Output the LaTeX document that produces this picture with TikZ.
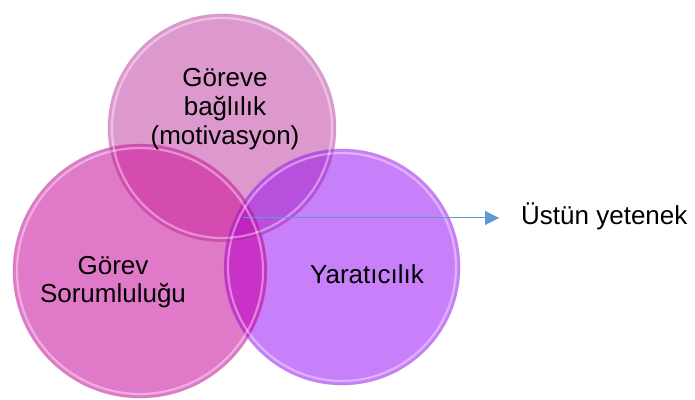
\documentclass[tikz,border=0pt]{standalone}
\usepackage{fontspec}
\setmainfont{Liberation Sans}
\usetikzlibrary{arrows.meta}
\definecolor{cTop}{RGB}{221,153,206}
\definecolor{cLeft}{RGB}{224,122,200}
\definecolor{cRight}{RGB}{200,128,250}
\definecolor{cTL}{RGB}{212,76,176}
\definecolor{cTR}{RGB}{184,80,222}
\definecolor{cLR}{RGB}{200,50,198}
\definecolor{cAll}{RGB}{192,38,190}
\definecolor{arrowblue}{RGB}{91,155,213}
\tikzset{
  lbl/.style={font=\fontsize{26}{28}\selectfont, align=center, text=black, inner sep=0pt},
  rimout/.style={line width=0.8pt, draw opacity=0.35},
  riminner/.style={draw=white, line width=2.2pt, draw opacity=0.4},
}
\begin{document}
\begin{tikzpicture}[x=1pt,y=1pt]
  \fill[white] (0,0) rectangle (695,399);
  \useasboundingbox (0,0) rectangle (695,399);
  % circle centres and radii
  \def\topc{(222,271)}\def\topr{114}
  \def\leftc{(140,128)}\def\leftr{127}
  \def\rightc{(342,132)}\def\rightr{118}
  % plain fills
  \fill[cTop] \topc circle (\topr);
  \fill[cLeft] \leftc circle (\leftr);
  \fill[cRight] \rightc circle (\rightr);
  % overlaps
  \begin{scope}
    \clip \topc circle (\topr);
    \fill[cTL] \leftc circle (\leftr);
    \fill[cTR] \rightc circle (\rightr);
  \end{scope}
  \begin{scope}
    \clip \leftc circle (\leftr);
    \fill[cLR] \rightc circle (\rightr);
  \end{scope}
  \begin{scope}
    \clip \topc circle (\topr);
    \clip \leftc circle (\leftr);
    \fill[cAll] \rightc circle (\rightr);
  \end{scope}
  % glossy rims
  \draw[riminner] \topc circle (\topr-4);
  \draw[riminner] \leftc circle (\leftr-4);
  \draw[riminner] \rightc circle (\rightr-4);
  \draw[rimout, draw=cTop!80!black] \topc circle (\topr);
  \draw[rimout, draw=cLeft!80!black] \leftc circle (\leftr);
  \draw[rimout, draw=cRight!80!black] \rightc circle (\rightr);
  % labels
  \node[lbl] (goreve) at (225,290) {Göreve\\[1pt]bağlılık\\[1pt](motivasyon)};
  \node[lbl] (gorev) at (113,117) {Görev\\Sorumluluğu};
  \node[lbl] (yarat) at (367,125) {Yaratıcılık};
  \node[lbl, anchor=west] (ustun) at (521,183) {Üstün yetenek};
  % arrow
  \coordinate (core) at (243,181);
  \draw[arrowblue, line width=1pt, -{Triangle[length=14pt,width=14pt]}, shorten >=22pt]
    (core) -- (core -| ustun.west);
\end{tikzpicture}
\end{document}
